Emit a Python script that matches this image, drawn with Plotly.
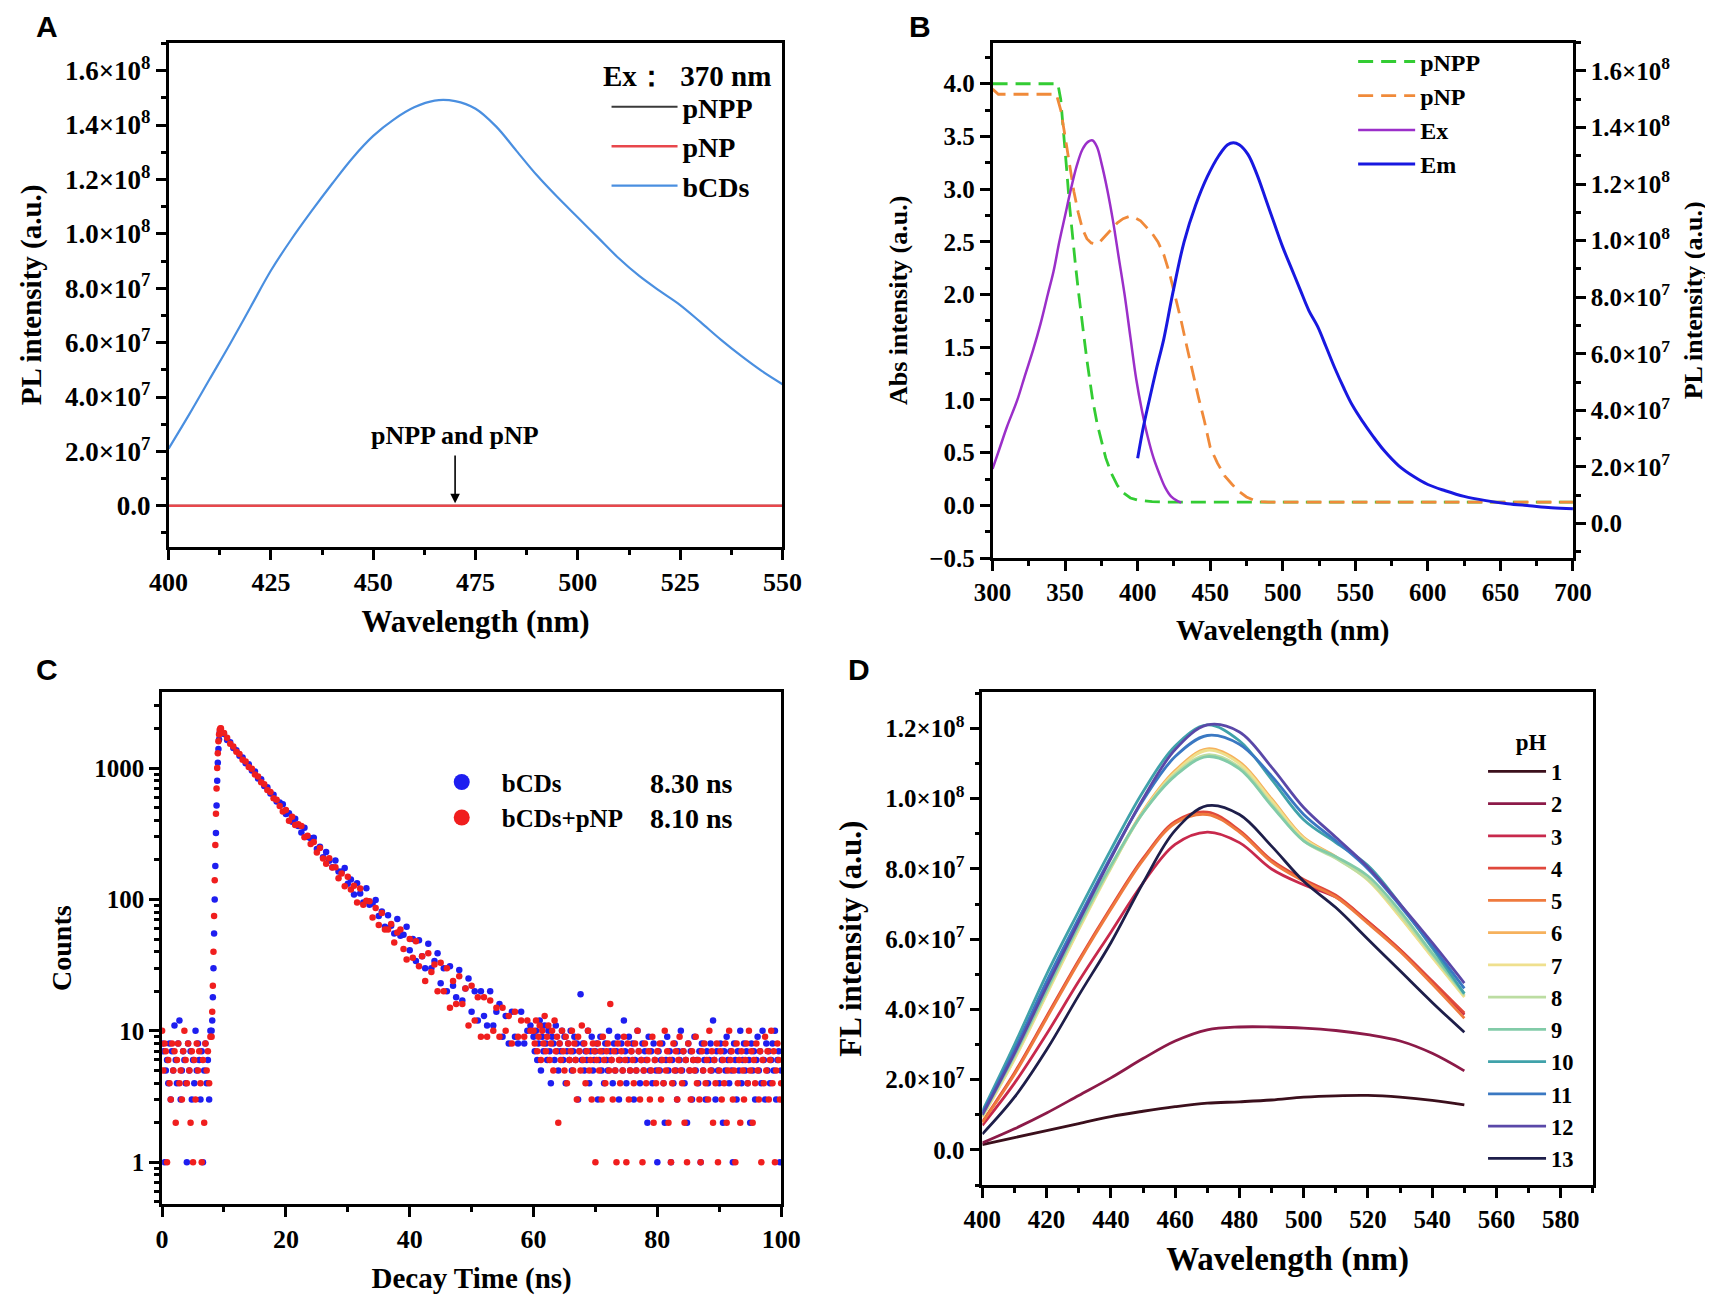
import plotly.graph_objects as go

SERIF = "Liberation Serif"
SANS = "Liberation Sans"

# ---------------- panel A : PL spectra, Ex 370 nm ----------------
a_wl = [400, 405, 410, 415, 420, 425, 430, 435, 440, 445, 450, 455, 460, 465, 470,
        475, 480, 485, 490, 495, 500, 505, 510, 515, 520, 525, 530, 535, 540, 545, 550]
a_bcds = [2.10e7, 3.35e7, 4.65e7, 5.95e7, 7.30e7, 8.65e7, 9.80e7, 10.85e7, 11.85e7, 12.8e7,
          13.6e7, 14.2e7, 14.65e7, 14.9e7, 14.88e7, 14.6e7, 13.95e7, 13.05e7, 12.15e7, 11.35e7,
          10.6e7, 9.85e7, 9.10e7, 8.45e7, 7.90e7, 7.38e7, 6.75e7, 6.10e7, 5.50e7, 4.95e7, 4.47e7]
a_flat_wl = [400, 550]
a_pnpp = [0.0, 0.0]
a_pnp = [0.0, 0.0]

pl_vals = [0, 2e7, 4e7, 6e7, 8e7, 1e8, 1.2e8, 1.4e8, 1.6e8]
pl_text = ["0.0", "2.0×10<sup>7</sup>", "4.0×10<sup>7</sup>", "6.0×10<sup>7</sup>",
           "8.0×10<sup>7</sup>", "1.0×10<sup>8</sup>", "1.2×10<sup>8</sup>",
           "1.4×10<sup>8</sup>", "1.6×10<sup>8</sup>"]

# ---------------- panel B : absorbance (left) and Ex/Em (right) ----------------
b_pnpp_wl = [300, 345, 347, 349, 351, 353, 355, 357, 359, 361, 363, 365, 367, 369, 372,
             375, 378, 382, 386, 390, 395, 400, 410, 420, 700]
b_pnpp = [4.0, 4.0, 3.85, 3.55, 3.2, 2.85, 2.55, 2.3, 2.05, 1.8, 1.6, 1.38, 1.18, 1.0, 0.78,
          0.6, 0.45, 0.3, 0.19, 0.12, 0.07, 0.05, 0.035, 0.03, 0.03]
b_pnp_wl = [300, 302, 304, 344, 347, 350, 353, 356, 359, 362, 365, 368, 371, 374, 378, 382,
            386, 390, 394, 398, 402, 406, 410, 414, 418, 422, 426, 430, 434, 438, 442, 446,
            450, 455, 460, 465, 470, 475, 480, 485, 490, 700]
b_pnp = [3.95, 3.92, 3.9, 3.9, 3.75, 3.5, 3.22, 2.98, 2.78, 2.62, 2.53, 2.49, 2.48, 2.5, 2.56,
         2.62, 2.68, 2.72, 2.74, 2.73, 2.7, 2.64, 2.58, 2.5, 2.38, 2.2, 1.98, 1.75, 1.5, 1.25,
         1.02, 0.8, 0.55, 0.4, 0.28, 0.2, 0.13, 0.08, 0.05, 0.035, 0.03, 0.03]
b_ex_wl = [300, 305, 310, 317, 322, 328, 333, 338, 342, 346, 350, 354, 358, 362, 366, 369,
           372, 375, 379, 383, 387, 391, 395, 399, 403, 407, 411, 415, 419, 423, 427, 430]
b_ex = [1.93e7, 2.68e7, 3.43e7, 4.36e7, 5.18e7, 6.15e7, 7.05e7, 8.09e7, 8.91e7, 9.96e7,
        10.89e7, 11.82e7, 12.64e7, 13.23e7, 13.50e7, 13.54e7, 13.31e7, 12.75e7, 11.82e7,
        10.70e7, 9.39e7, 8.09e7, 6.59e7, 5.11e7, 3.98e7, 3.05e7, 2.31e7, 1.75e7, 1.27e7,
        0.96e7, 0.81e7, 0.74e7]
b_em_wl = [400, 404, 408, 413, 418, 424, 432, 440, 448, 456, 462, 466, 470, 476, 482, 488,
           494, 500, 506, 512, 518, 524, 530, 536, 542, 548, 555, 562, 570, 580, 590, 600,
           612, 625, 640, 655, 670, 685, 700]
b_em = [2.31e7, 3.43e7, 4.36e7, 5.48e7, 6.52e7, 8.09e7, 9.96e7, 11.26e7, 12.26e7, 13.01e7,
        13.39e7, 13.46e7, 13.39e7, 13.05e7, 12.37e7, 11.51e7, 10.63e7, 9.77e7, 9.02e7, 8.27e7,
        7.53e7, 6.97e7, 6.23e7, 5.48e7, 4.80e7, 4.18e7, 3.61e7, 3.10e7, 2.57e7, 2.04e7,
        1.67e7, 1.38e7, 1.16e7, 0.96e7, 0.81e7, 0.70e7, 0.63e7, 0.56e7, 0.52e7]

# ---------------- panel C : fluorescence decay (counts per channel) ----------------
pre_t = [round(0.2 * i, 1) for i in range(40)]          # 0 .. 7.8 ns
rise_t = [round(8.0 + 0.1 * i, 1) for i in range(15)]   # 8.0 .. 9.4 ns
decay_t = [9.5 + 0.5 * i for i in range(101)]           # 9.5 .. 59.5 ns
tail_t = [round(60 + 0.2 * i, 1) for i in range(201)]   # 60 .. 100 ns

bcd_pre = [8, 7, 1, 5, 6, 4, 8, 3, 7, 5, 11, 6, 4, 8, 12, 3, 5, 7, 6, 4,
           1, 8, 5, 7, 3, 6, 4, 10, 5, 8, 6, 3, 7, 1, 5, 8, 4, 6, 3, 10]
bcd_rise = [10, 12, 18, 30, 55, 100, 180, 320, 520, 800, 1100, 1400, 1650, 1850, 1920]
bcd_decay = [1930, 1820, 1640, 1575, 1420, 1370, 1240, 1205, 1090, 1072,
             960, 941, 835, 822, 730, 716, 640, 628, 556, 548,
             531, 447, 454, 390, 412, 363, 324, 351, 299, 293,
             295, 242, 252, 210, 230, 197, 176, 198, 163, 163,
             174, 132, 142, 109, 133, 111, 95, 122, 91, 93,
             99, 75, 81, 62, 76, 63, 55, 71, 53, 54,
             62, 41, 50, 34, 49, 37, 30, 46, 30, 34,
             39, 23, 30, 20, 31, 22, 18, 29, 17, 21,
             25, 14, 20, 12, 20, 13, 11, 20, 11, 14,
             16, 9, 13, 8, 14, 9, 8, 14, 8, 10,
             11]
bcd_tail = [9, 7, 10, 6, 8, 12, 5, 9, 7, 11, 8, 6, 10, 7, 4, 9, 8, 6, 11, 7,
            5, 8, 7, 10, 6, 9, 4, 7, 8, 6, 10, 5, 7, 9, 6, 8, 3, 7, 19, 6,
            8, 5, 7, 6, 10, 4, 7, 9, 5, 6, 7, 8, 3, 6, 9, 5, 7, 4, 8, 6,
            5, 10, 7, 6, 4, 8, 5, 7, 9, 3, 6, 8, 5, 12, 7, 4, 6, 9, 5, 7,
            8, 3, 6, 5, 10, 7, 4, 6, 8, 5, 7, 6, 2, 9, 5, 7, 4, 8, 6, 5,
            1, 7, 5, 6, 8, 4, 2, 6, 9, 5, 7, 1, 6, 4, 8, 5, 3, 7, 6, 10,
            5, 7, 4, 6, 2, 8, 5, 7, 3, 6, 9, 5, 6, 4, 7, 1, 8, 5, 6, 3,
            7, 4, 6, 8, 5, 12, 6, 3, 7, 5, 4, 8, 6, 2, 7, 5, 9, 6, 4, 7,
            5, 1, 8, 6, 3, 7, 5, 10, 4, 6, 8, 5, 7, 4, 6, 2, 8, 5, 7, 3,
            6, 9, 5, 7, 4, 10, 6, 3, 8, 5, 7, 4, 6, 8, 5, 10, 3, 6, 7, 1,
            5]

pnp_pre = [10, 5, 8, 7, 1, 6, 4, 3, 8, 5, 7, 2, 6, 8, 4, 5, 3, 7, 10, 6,
           4, 8, 5, 2, 7, 1, 6, 3, 8, 5, 7, 4, 1, 6, 2, 8, 5, 7, 4, 9]
pnp_rise = [9, 14, 22, 40, 75, 140, 260, 450, 700, 1000, 1300, 1600, 1800, 1950, 2000]
pnp_decay = [2010, 1850, 1700, 1530, 1460, 1330, 1280, 1160, 1125, 1020,
             990, 895, 862, 780, 752, 680, 657, 590, 575, 515,
             467, 479, 398, 426, 369, 373, 363, 297, 305, 264,
             274, 228, 246, 205, 187, 206, 175, 176, 145, 158,
             126, 149, 119, 127, 95, 121, 91, 98, 97, 73,
             86, 64, 79, 59, 59, 65, 47, 56, 59, 42,
             35, 50, 36, 48, 31, 37, 24, 39, 28, 32,
             20, 33, 20, 30, 15, 24, 16, 26, 16, 21,
             11, 22, 12, 18, 9, 18, 9, 17, 10, 15,
             9, 15, 10, 13, 8, 14, 9, 12, 9, 12,
             10]
pnp_tail = [10, 8, 12, 7, 9, 11, 6, 10, 8, 13, 7, 9, 11, 6, 8, 10, 5, 12, 7, 9,
            2, 8, 6, 10, 7, 5, 9, 4, 8, 6, 7, 10, 5, 8, 6, 3, 9, 7, 5, 11,
            6, 8, 4, 7, 10, 5, 6, 3, 8, 7, 1, 6, 8, 5, 7, 3, 9, 6, 4, 7,
            8, 5, 16, 6, 3, 7, 5, 1, 8, 6, 4, 7, 5, 9, 6, 1, 8, 3, 5, 7,
            6, 4, 8, 5, 10, 7, 3, 6, 1, 5, 8, 4, 6, 7, 3, 5, 9, 2, 6, 4,
            7, 5, 8, 3, 6, 4, 10, 5, 7, 2, 6, 1, 4, 8, 5, 7, 3, 6, 9, 5,
            4, 7, 2, 6, 1, 8, 5, 3, 7, 6, 5, 9, 4, 6, 3, 1, 7, 5, 8, 4,
            6, 3, 10, 5, 7, 2, 6, 4, 8, 1, 5, 7, 3, 6, 4, 8, 2, 5, 10, 6,
            7, 3, 5, 1, 8, 4, 6, 2, 7, 5, 3, 6, 8, 4, 10, 5, 7, 2, 6, 4,
            8, 5, 3, 7, 1, 6, 4, 9, 5, 7, 3, 6, 10, 4, 7, 1, 5, 8, 6, 3,
            4]

# ---------------- panel D : pH series ----------------
d_wl = [400, 410, 420, 430, 440, 450, 460, 470, 480, 490, 500, 510, 520, 530, 540, 550]
ph_labels = ["1", "2", "3", "4", "5", "6", "7", "8", "9", "10", "11", "12", "13"]
ph_colors = ["#3b0f1c", "#8c1a48", "#c8294c", "#e0483c", "#ef7a3e", "#f6b15c", "#efe08e",
             "#bcdda2", "#82cba8", "#40a2aa", "#3a78c2", "#5a48a8", "#1e1e4a"]
ph_curves = [
    [0.15e7, 0.35e7, 0.55e7, 0.75e7, 0.95e7, 1.1e7, 1.23e7, 1.33e7, 1.37e7, 1.42e7, 1.5e7, 1.54e7, 1.55e7, 1.5e7, 1.41e7, 1.28e7],
    [0.2e7, 0.6e7, 1.05e7, 1.55e7, 2.05e7, 2.6e7, 3.1e7, 3.42e7, 3.5e7, 3.5e7, 3.47e7, 3.4e7, 3.28e7, 3.1e7, 2.75e7, 2.25e7],
    [0.7e7, 1.9e7, 3.3e7, 4.8e7, 6.2e7, 7.6e7, 8.7e7, 9.05e7, 8.75e7, 8.0e7, 7.55e7, 7.2e7, 6.5e7, 5.7e7, 4.8e7, 3.85e7],
    [0.8e7, 2.2e7, 3.8e7, 5.4e7, 6.9e7, 8.3e7, 9.35e7, 9.62e7, 9.1e7, 8.25e7, 7.7e7, 7.25e7, 6.5e7, 5.7e7, 4.8e7, 3.9e7],
    [0.78e7, 2.15e7, 3.75e7, 5.35e7, 6.85e7, 8.25e7, 9.3e7, 9.55e7, 9.05e7, 8.2e7, 7.65e7, 7.2e7, 6.45e7, 5.65e7, 4.72e7, 3.75e7],
    [0.95e7, 2.6e7, 4.45e7, 6.3e7, 8.05e7, 9.65e7, 10.8e7, 11.42e7, 11.05e7, 10.0e7, 8.9e7, 8.35e7, 7.7e7, 6.65e7, 5.5e7, 4.38e7],
    [0.93e7, 2.58e7, 4.42e7, 6.27e7, 8.02e7, 9.62e7, 10.75e7, 11.38e7, 11.0e7, 9.95e7, 8.87e7, 8.32e7, 7.68e7, 6.63e7, 5.48e7, 4.35e7],
    [0.97e7, 2.65e7, 4.5e7, 6.35e7, 8.05e7, 9.6e7, 10.7e7, 11.25e7, 10.9e7, 9.85e7, 8.8e7, 8.3e7, 7.7e7, 6.7e7, 5.55e7, 4.4e7],
    [1.0e7, 2.7e7, 4.55e7, 6.4e7, 8.1e7, 9.6e7, 10.65e7, 11.2e7, 10.85e7, 9.8e7, 8.8e7, 8.35e7, 7.8e7, 6.8e7, 5.6e7, 4.45e7],
    [1.1e7, 3.0e7, 5.0e7, 6.8e7, 8.55e7, 10.2e7, 11.5e7, 12.1e7, 11.65e7, 10.55e7, 9.4e7, 8.75e7, 8.1e7, 7.0e7, 5.75e7, 4.45e7],
    [1.05e7, 2.85e7, 4.8e7, 6.6e7, 8.35e7, 9.95e7, 11.2e7, 11.8e7, 11.55e7, 10.65e7, 9.55e7, 8.8e7, 8.0e7, 6.95e7, 5.8e7, 4.6e7],
    [1.0e7, 2.75e7, 4.65e7, 6.5e7, 8.3e7, 10.0e7, 11.4e7, 12.1e7, 11.9e7, 10.9e7, 9.75e7, 8.9e7, 8.05e7, 7.0e7, 5.9e7, 4.75e7],
    [0.45e7, 1.5e7, 2.85e7, 4.4e7, 5.9e7, 7.6e7, 9.1e7, 9.8e7, 9.55e7, 8.65e7, 7.65e7, 6.9e7, 6.0e7, 5.1e7, 4.2e7, 3.35e7],
]
fl_vals = [0, 2e7, 4e7, 6e7, 8e7, 1e8, 1.2e8]
fl_text = pl_text[:7]


def bold(size, family=SERIF):
    return dict(family=family, size=size, color="black", weight="bold")


def axis(title, tsize=29, fsize=26, minor_dtick=None, **kw):
    d = dict(showline=True, linewidth=2.5, linecolor="black", mirror=True,
             ticks="outside", ticklen=10, tickwidth=2.5, tickcolor="black",
             showgrid=False, zeroline=False, tickfont=bold(fsize),
             title=dict(text=title, font=bold(tsize)))
    if minor_dtick is not None:
        d["minor"] = dict(ticks="outside", ticklen=5, tickwidth=2.5, tickcolor="black",
                          dtick=minor_dtick, showgrid=False)
    d.update(kw)
    return d


fig = go.Figure()

# A
fig.add_trace(go.Scatter(x=a_flat_wl, y=a_pnpp, mode="lines", name="pNPP",
                         line=dict(color="#3a3a3a", width=2), xaxis="x", yaxis="y", legend="legend"))
fig.add_trace(go.Scatter(x=a_flat_wl, y=a_pnp, mode="lines", name="pNP",
                         line=dict(color="#e8474c", width=2.5), xaxis="x", yaxis="y", legend="legend"))
fig.add_trace(go.Scatter(x=a_wl, y=a_bcds, mode="lines", name="bCDs", line_shape="spline",
                         line=dict(color="#4a8fe0", width=2.2), xaxis="x", yaxis="y", legend="legend"))

# B
fig.add_trace(go.Scatter(x=b_pnpp_wl, y=b_pnpp, mode="lines", name="pNPP",
                         line=dict(color="#33cc33", width=2.8, dash="15px,8px"),
                         xaxis="x2", yaxis="y2", legend="legend2"))
fig.add_trace(go.Scatter(x=b_pnp_wl, y=b_pnp, mode="lines", name="pNP",
                         line=dict(color="#f08a3a", width=2.8, dash="15px,8px"),
                         xaxis="x2", yaxis="y2", legend="legend2"))
fig.add_trace(go.Scatter(x=b_ex_wl, y=b_ex, mode="lines", name="Ex", line_shape="spline",
                         line=dict(color="#9b2fc9", width=2.5), xaxis="x2", yaxis="y5", legend="legend2"))
fig.add_trace(go.Scatter(x=b_em_wl, y=b_em, mode="lines", name="Em", line_shape="spline",
                         line=dict(color="#1818e0", width=3), xaxis="x2", yaxis="y5", legend="legend2"))

# C
c_t = pre_t + rise_t + decay_t + tail_t
for counts, color, name in [(bcd_pre + bcd_rise + bcd_decay + bcd_tail, "#1e1ef0", "bCDs"),
                            (pnp_pre + pnp_rise + pnp_decay + pnp_tail, "#f01e1e", "bCDs+pNP")]:
    fig.add_trace(go.Scatter(x=c_t, y=counts, mode="markers", showlegend=False,
                             marker=dict(color=color, size=6.5, line_width=0),
                             xaxis="x3", yaxis="y3"))
    fig.add_trace(go.Scatter(x=[None], y=[None], mode="markers", name=name,
                             marker=dict(color=color, size=16),
                             xaxis="x3", yaxis="y3", legend="legend3"))

# D
for lab, col, vals in zip(ph_labels, ph_colors, ph_curves):
    fig.add_trace(go.Scatter(x=d_wl, y=vals, mode="lines", name=lab, line_shape="spline",
                             line=dict(color=col, width=2.8), xaxis="x4", yaxis="y4",
                             legend="legend4"))

fig.update_layout(
    width=1713, height=1301, margin=dict(l=0, r=0, t=0, b=0),
    paper_bgcolor="white", plot_bgcolor="white", showlegend=True,
    xaxis=axis("Wavelength (nm)", tsize=31, fsize=26, domain=[0.0846, 0.4513], anchor="y",
               range=[400, 550], tickvals=[400, 425, 450, 475, 500, 525, 550], minor_dtick=12.5),
    yaxis=axis("PL intensity (a.u.)", tsize=29, fsize=27, domain=[0.5811, 0.9731], anchor="x",
               range=[-1.52e7, 1.703e8], tickvals=pl_vals, ticktext=pl_text, minor_dtick=1e7),
    xaxis2=axis("Wavelength (nm)", tsize=29, fsize=25, domain=[0.5768, 0.9235], anchor="y2",
                range=[300, 700], dtick=50, minor_dtick=25),
    yaxis2=axis("Abs intensity (a.u.)", tsize=26, fsize=25, domain=[0.5726, 0.9731], anchor="x2",
                range=[-0.5, 4.39], dtick=0.5, tickformat=".1f", minor_dtick=0.25),
    yaxis5=axis("PL intensity (a.u.)", tsize=26, fsize=25, overlaying="y2", side="right",
                anchor="x2", mirror=False, range=[-1.22e7, 1.70e8],
                tickvals=pl_vals, ticktext=pl_text, minor_dtick=1e7),
    xaxis3=axis("Decay Time (ns)", tsize=29, fsize=26, domain=[0.0807, 0.4505], anchor="y3",
                range=[0, 100], dtick=20, minor_dtick=10),
    yaxis3=axis("Counts", tsize=28, fsize=25, domain=[0.0707, 0.4683], anchor="x3", type="log",
                range=[-0.318, 3.577], tickvals=[1, 10, 100, 1000],
                ticktext=["1", "10", "100", "1000"], minor_dtick="D1"),
    xaxis4=axis("Wavelength (nm)", tsize=33, fsize=25, domain=[0.5707, 0.9354], anchor="y4",
                range=[400, 590], dtick=20, minor_dtick=10),
    yaxis4=axis("FL intensity (a.u.)", tsize=31, fsize=25, domain=[0.0853, 0.4683], anchor="x4",
                range=[-1.006e7, 1.303e8], tickvals=fl_vals, ticktext=fl_text, minor_dtick=1e7),
    legend=dict(x=0.3462, y=0.9424, xanchor="left", yanchor="top", font=bold(28),
                bgcolor="rgba(0,0,0,0)", itemwidth=66, traceorder="normal"),
    legend2=dict(x=0.7922, y=0.9756, xanchor="left", yanchor="top", font=bold(24),
                 bgcolor="rgba(0,0,0,0)", itemwidth=57),
    legend3=dict(x=0.2358, y=0.4163, xanchor="left", yanchor="top", font=bold(25),
                 bgcolor="rgba(0,0,0,0)", itemwidth=70),
    legend4=dict(x=0.8698, y=0.4465, xanchor="left", yanchor="top", font=bold(22.5),
                 bgcolor="rgba(0,0,0,0)", itemwidth=58,
                 title=dict(text="pH", side="top center", font=bold(23))),
)

fig.add_annotation(xref="x domain", yref="y", x=0.984, y=1.582e8, text="Ex：  370 nm",
                   showarrow=False, font=bold(29), xanchor="right")
fig.add_annotation(xref="x", yref="y", x=470, y=2.6e7, text="pNPP and pNP", showarrow=False,
                   font=bold(26))
fig.add_annotation(xref="x", yref="y", x=470, y=0.09e7, ax=470, ay=1.9e7, axref="x", ayref="y",
                   text="", showarrow=True, arrowhead=2, arrowsize=1.2, arrowwidth=1.6,
                   arrowcolor="black")
fig.add_annotation(xref="x3", yref="y3", x=78.5, y=2.885, text="8.30 ns", showarrow=False,
                   xanchor="left", font=bold(28))
fig.add_annotation(xref="x3", yref="y3", x=78.5, y=2.618, text="8.10 ns", showarrow=False,
                   xanchor="left", font=bold(28))

for letter, px, py in [("A", 0.004, 1.0), ("B", 0.5254, 1.0),
                       ("C", 0.004, 0.5004), ("D", 0.489, 0.5004)]:
    fig.add_annotation(xref="paper", yref="paper", x=px, y=py, text=letter, showarrow=False,
                       xanchor="left", yanchor="top", font=bold(30, SANS))

fig.write_html("out.html")
